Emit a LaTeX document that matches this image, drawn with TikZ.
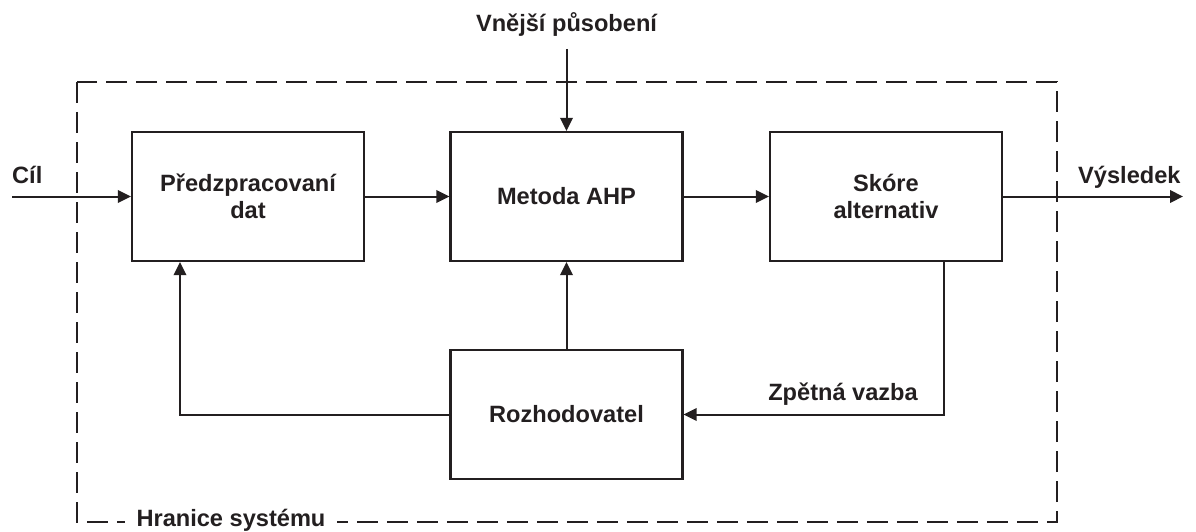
\documentclass[tikz,border=0pt]{standalone}
\usepackage{fontspec}
\setmainfont{Liberation Sans}
\usetikzlibrary{arrows.meta}
\definecolor{ink}{RGB}{35,31,32}
\begin{document}
\begin{tikzpicture}[x=1pt,y=-1pt,
  txt/.style={font=\bfseries\fontsize{23.6}{27}\selectfont, text=ink},
  box/.style={txt, draw=ink, line width=2.2pt, minimum width=232pt, minimum height=129pt, inner sep=0pt, align=center},
  lbl/.style={txt, inner sep=0pt},
  conn/.style={draw=ink, line width=2pt},
  arr/.style={conn, -{Triangle[length=13pt,width=12.5pt]}},
  boundary/.style={draw=ink, line width=2pt, dash pattern=on 21pt off 9pt}]
\useasboundingbox (0,0) rectangle (1196,532);
% system boundary
\draw[boundary] (77,82) rectangle (1057,522);
\node[lbl, fill=white, inner xsep=12pt, inner ysep=1pt, anchor=base] (hranice) at (231,526) {Hranice systému};
% blocks
\node[box] (pred) at (248,196.5) {Předzpracovaní\\dat};
\node[box] (ahp) at (566.5,196.5) {Metoda AHP};
\node[box] (skore) at (886,196.5) {Skóre\\alternativ};
\node[box] (rozh) at (566.5,414.5) {Rozhodovatel};
% free ends
\coordinate (cilstart) at (12,196.5);
\coordinate (vysend) at (1183,196.5);
\coordinate (vnstart) at (566.5,49);
% labels
\node[lbl, anchor=base west] (cil) at (12,183) {Cíl};
\node[lbl, anchor=base west] (vysledek) at (1078,183) {Výsledek};
\node[lbl, anchor=base] (vnejsi) at (566.5,32) {Vnější působení};
\node[lbl, anchor=base east] (zpetna) at (918,400) {Zpětná vazba};
% connectors
\draw[arr] (cilstart) -- (pred.west);
\draw[arr] (pred.east) -- (ahp.west);
\draw[arr] (ahp.east) -- (skore.west);
\draw[arr] (skore.east) -- (vysend);
\draw[arr] (vnstart) -- (ahp.north);
\draw[arr] (rozh.north) -- (ahp.south);
\draw[arr] (rozh.west) -| ([xshift=-68pt]pred.south);
\draw[arr] ([xshift=58pt]skore.south) |- (rozh.east);
\end{tikzpicture}
\end{document}
